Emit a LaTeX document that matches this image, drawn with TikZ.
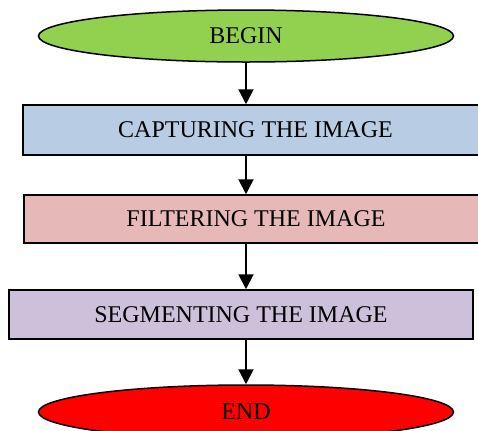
\documentclass[tikz,border=0pt]{standalone}
\usepackage{fontspec}
\setmainfont{Liberation Serif}
\usetikzlibrary{positioning,arrows.meta,shapes.geometric}
\definecolor{begingreen}{HTML}{92D050}
\definecolor{capblue}{HTML}{B8CCE4}
\definecolor{filtpink}{HTML}{E6B9B8}
\definecolor{segpurple}{HTML}{CCC0DA}
\definecolor{endred}{HTML}{FF0000}
\tikzset{
  stepbox/.style={
    draw, line width=0.75pt, align=center, inner sep=0pt,
    font=\fontsize{12}{14}\selectfont, minimum height=25pt, text=black,
  },
  term/.style={stepbox, ellipse, minimum width=207.5pt, minimum height=26pt},
  flow/.style={-{Triangle[length=7.5pt,width=7.5pt]}, line width=1pt},
}
\begin{document}
\begin{tikzpicture}[x=0.5pt,y=-0.5pt]
\useasboundingbox (0,0) rectangle (478,430);
\clip (0,0) rectangle (478,430);

% Start
\node[term, fill=begingreen] (begin) at (246,36) {BEGIN};

% Steps
\node[stepbox, fill=capblue, minimum width=232.5pt] (capture) at (255.5,130) {CAPTURING THE IMAGE};
\node[stepbox, fill=filtpink, minimum width=232pt, minimum height=24pt] (filter) at (256,219) {FILTERING THE IMAGE};
\node[stepbox, fill=segpurple, minimum width=232pt, minimum height=24.5pt] (segment) at (241,314.5) {SEGMENTING THE IMAGE};

% Stop
\node[term, fill=endred, minimum height=27pt] (finish) at (246,412) {END};

% Edges
\draw[flow] (begin.south) -- (begin.south |- capture.north);
\draw[flow] (begin.south |- capture.south) -- (begin.south |- filter.north);
\draw[flow] (begin.south |- filter.south) -- (begin.south |- segment.north);
\draw[flow] (begin.south |- segment.south) -- (finish.north);

\end{tikzpicture}
\end{document}
